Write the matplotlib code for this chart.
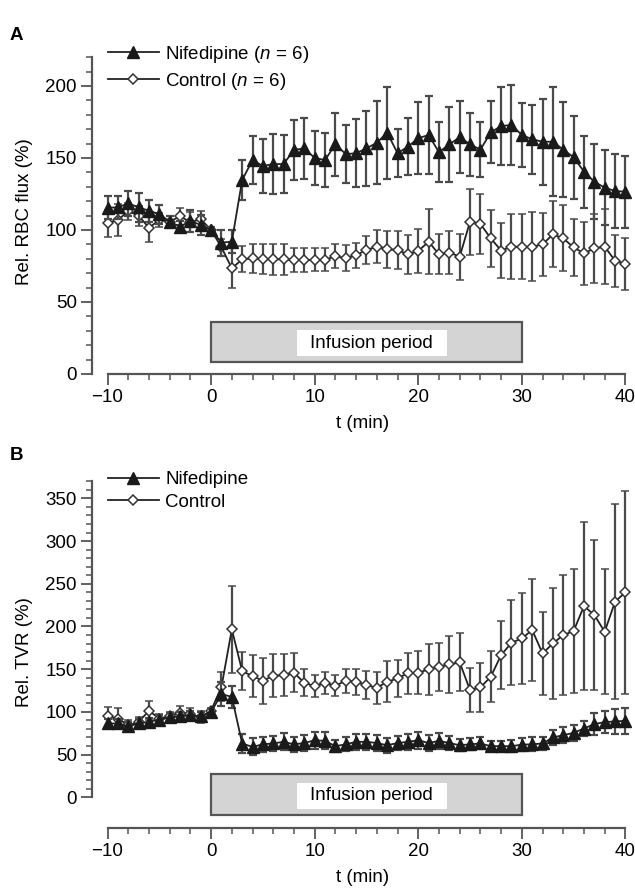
import numpy as np
import matplotlib
matplotlib.use("Agg")
import matplotlib.pyplot as plt
from matplotlib.patches import Rectangle
from matplotlib.lines import Line2D
from matplotlib.ticker import MultipleLocator

plt.rcParams['font.family'] = ['Liberation Sans', 'DejaVu Sans']
plt.rcParams['mathtext.fontset'] = 'custom'
plt.rcParams['mathtext.it'] = 'Liberation Sans:italic'
plt.rcParams['mathtext.rm'] = 'Liberation Sans'

# ---------------- data ----------------
t = list(range(-10, 41))

nif_A = [115.5, 115.7, 118.5, 115.7, 113.4, 111, 105.8, 102.3, 106.3, 103.5, 100,
         91.2, 91.9, 134.7, 148.6, 144.4, 145.8, 145.8, 155.6,
         156.7, 150, 148.6, 159.5, 152.7, 153.3, 156.7, 160.6, 167.6, 153.3, 157.9,
         163.7, 166, 154, 159.5, 164.4, 159.5, 155.8, 167.8, 172.2, 172.9, 166, 163,
         161.3, 161.3, 155.8, 150.5, 140.5, 133.5, 129.4, 127.1, 126.6]
nif_A_err = [8, 8, 8.5, 10, 7.5, 6.5, 4, 4, 7.5, 7, 2,
             9, 8, 14, 17, 19, 21, 20, 21,
             21, 18.5, 18.5, 22, 20, 23.5, 26, 29, 32, 16.5, 20, 25, 27, 21, 26, 25,
             22, 19, 21.5, 27, 28, 22.5, 24, 30, 38, 33, 29, 25, 26, 26, 26, 25]
ctl_A = [104.6, 107, 113, 110, 101.5, 107, 105.8, 109.5, 105.5, 107.5, 100,
         88, 73.4, 79.6, 80.3, 79.6, 79.6, 79.6, 79.2,
         79.2, 79.2, 79.2, 81.9, 80.3, 82.6, 86.1, 88.4, 86.6, 86.1, 83.1, 85.4,
         91.9, 83.1, 84.3, 81.5, 105.8, 104.2, 94.2, 85.7, 88.4, 88.4, 88.4, 90, 97,
         94.2, 87.9, 83.8, 87.3, 88.4, 78.7, 76.4]
ctl_A_err = [9.5, 11, 6, 7, 10, 5, 4, 6, 7, 6, 2,
             6, 14, 9, 10, 10.5, 11, 11, 8.5,
             8.3, 8, 8, 8.4, 9, 8.7, 10, 11.5, 13, 13, 13.5, 15.5, 22.5, 14, 15, 16,
             23, 21, 20, 19, 22.5, 22.5, 24, 22, 23, 23, 20, 22, 24, 26, 18, 18]

nif_B = [86.4, 86.4, 83.2, 86.4, 88.3, 91, 93.4, 94.7, 96, 94.7, 100,
         120.7, 117.6,
         62.9, 59, 62, 63, 64.9, 62, 63.5, 66.8, 66, 59.8, 62, 64.9, 64.9, 63.5, 60.9,
         63.5, 64.9, 66.8, 63.5, 66, 63.5, 60.9, 62, 63, 59.8, 59.8, 59.8, 61.6, 62,
         63, 70, 72.7, 75.4, 80.5, 85.7, 88, 88.8, 89.5]
nif_B_err = [5, 5, 5, 5, 5, 5, 5, 5, 5, 5, 3,
             14, 13,
             11, 10, 9, 9, 10, 9, 9, 10, 10, 7, 8, 9, 9, 9, 9, 8, 9, 10, 9, 9,
             8, 7, 7, 7, 6, 6, 7, 8, 8, 8, 9, 9, 9, 9, 13, 13, 15, 15]
ctl_B = [95, 92.2, 84.4, 88.3, 101.2, 92.2, 95, 98.8, 97, 94, 101.5,
         129.3, 196.6, 147.7, 141.9, 136.4, 142.2, 143, 145.8, 134, 130.1,
         134, 130.5, 136.4, 135.2, 131.3, 128.2, 135.2, 139.1, 145.4, 145.8,
         149.7, 152.8, 155.5, 157.9, 125.4, 128.6, 141.1, 166.5, 180.9, 186,
         195.8, 168.4, 180.1, 189.9, 194.6, 223.9, 213.4, 193.8, 229, 240]
ctl_B_err = [11, 12, 6, 6, 11, 5, 5, 8, 7, 7, 3,
             17, 51, 22, 25, 27, 25, 25, 23, 16, 13,
             13, 12.5, 14, 15, 16, 19, 24, 22, 24, 25,
             30, 28, 33, 34, 26, 29, 30, 40, 50, 53,
             60, 49, 65, 70, 73, 98, 88, 73, 114, 119]

labels_A = [r'Nifedipine ($n$ = 6)', r'Control ($n$ = 6)']
labels_B = ['Nifedipine', 'Control']
infusion_start, infusion_end = 0, 30
infusion_text = 'Infusion period'

# ---------------- figure ----------------
W, H = 635, 890
fig = plt.figure(figsize=(W / 100, H / 100), dpi=100)

FS = 13.5
ecol = '#4a4a4a'
lcol = '#222222'
spcol = '#555555'

nif_style = dict(marker='^', ms=8, mfc='#1a1a1a', mec='#1a1a1a')
ctl_style = dict(marker='D', ms=5.5, mfc='white', mec='#333333', mew=1.1)


def px_axes(x0, y0, x1, y1):
    return fig.add_axes([x0 / W, 1 - y1 / H, (x1 - x0) / W, (y1 - y0) / H])


def draw_panel(ax, nif, nif_err, ctl, ctl_err, labels, ylim, ytop, ymax_tick,
               box_y, inner_y, leg_anchor):
    ax.errorbar(t, ctl, yerr=ctl_err, color=lcol, lw=1.3, ecolor=ecol,
                elinewidth=1.6, capsize=3, capthick=1.6, zorder=3, **ctl_style)
    ax.errorbar(t, nif, yerr=nif_err, color=lcol, lw=1.3, ecolor=ecol,
                elinewidth=1.6, capsize=3, capthick=1.6, zorder=4, **nif_style)
    ax.set_xlim(-11.5, 40.8)
    ax.set_ylim(*ylim)
    for s in ['top', 'right']:
        ax.spines[s].set_visible(False)
    for s in ['left', 'bottom']:
        ax.spines[s].set_color(spcol)
        ax.spines[s].set_linewidth(1.6)
    ax.spines['left'].set_bounds(0, ytop)
    ax.spines['bottom'].set_bounds(-10, 40)
    ax.set_xticks([-10, 0, 10, 20, 30, 40])
    ax.set_xticklabels(['\u221210', '0', '10', '20', '30', '40'])
    ax.xaxis.set_minor_locator(MultipleLocator(2))
    ax.set_yticks(np.arange(0, ymax_tick + 1, 50))
    ax.set_yticks(np.arange(0, ytop + 1, 10), minor=True)
    ax.tick_params(which='major', length=8, width=1.3, color=spcol,
                   labelsize=FS, pad=3)
    ax.tick_params(which='minor', length=4.5, width=1.1, color=spcol)
    ax.set_xlabel('t (min)', fontsize=FS, labelpad=6)

    # infusion box
    ax.add_patch(Rectangle((infusion_start, box_y[0]), infusion_end - infusion_start,
                           box_y[1] - box_y[0], facecolor='#d4d4d4',
                           edgecolor='#555555', lw=1.6, zorder=2))
    ax.add_patch(Rectangle((8.3, inner_y[0]), 14.5, inner_y[1] - inner_y[0],
                           facecolor='white', edgecolor='none', zorder=2.5))
    ax.text(15.5, (inner_y[0] + inner_y[1]) / 2, infusion_text, ha='center',
            va='center', fontsize=FS, zorder=3)

    h_nif = Line2D([], [], color=lcol, lw=1.3, **nif_style)
    h_ctl = Line2D([], [], color=lcol, lw=1.3, **ctl_style)
    ax.legend([h_nif, h_ctl], labels, loc='upper left',
              bbox_to_anchor=leg_anchor, bbox_transform=fig.transFigure,
              frameon=False, fontsize=FS, handlelength=2.7,
              handletextpad=0.35, labelspacing=0.3, borderpad=0,
              borderaxespad=0)


axA = px_axes(92, 50, 633.7, 374)
draw_panel(axA, nif_A, nif_A_err, ctl_A, ctl_A_err, labels_A,
           ylim=(0, 225), ytop=220, ymax_tick=200,
           box_y=(8, 36), inner_y=(12.5, 30.5),
           leg_anchor=(108 / W, 1 - 44 / H))
axA.set_ylabel('Rel. RBC flux (%)', fontsize=FS, labelpad=9)

axB = px_axes(92, 477, 633.7, 828)
draw_panel(axB, nif_B, nif_B_err, ctl_B, ctl_B_err, labels_B,
           ylim=(-36, 375), ytop=370, ymax_tick=350,
           box_y=(-21, 27), inner_y=(-13.5, 16.5),
           leg_anchor=(108 / W, 1 - 471 / H))
axB.set_ylabel('Rel. TVR (%)', fontsize=FS, labelpad=9)

fig.text(10 / W, 1 - 35 / H, 'A', fontsize=FS, fontweight='bold', va='center')
fig.text(10 / W, 1 - 455 / H, 'B', fontsize=FS, fontweight='bold', va='center')

fig.savefig('out.png', dpi=100)
